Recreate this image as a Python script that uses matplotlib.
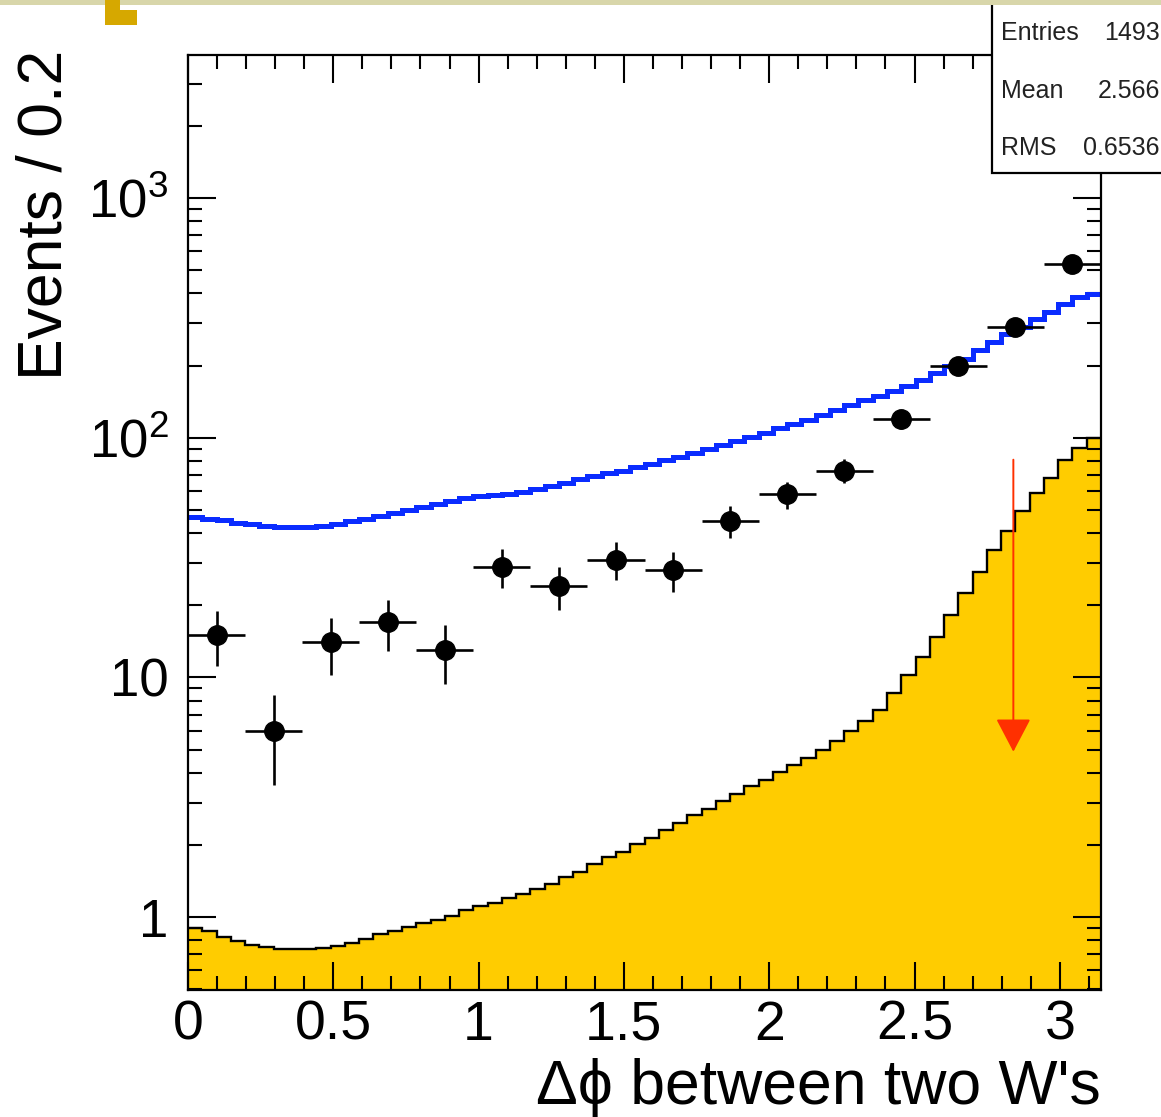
import numpy as np
import matplotlib
matplotlib.use("Agg")
import matplotlib.pyplot as plt
from matplotlib.patches import Rectangle
from matplotlib.ticker import FixedLocator, FixedFormatter, MultipleLocator, LogLocator, NullFormatter

plt.rcParams['font.family'] = ['Liberation Sans', 'DejaVu Sans']
plt.rcParams['mathtext.fontset'] = 'custom'
plt.rcParams['mathtext.rm'] = 'Liberation Sans'
plt.rcParams['mathtext.it'] = 'Liberation Sans:italic'

# data points, 16 bins over [0, pi]
data_counts = [15, 6, 14, 17, 13, 29, 24, 31, 28, 45, 58, 73, 120, 200, 290, 530]

# blue expectation, 64 bins over [0, pi]
blue_mc = [46.9, 46.0, 45.2, 44.3, 43.5, 42.8, 42.3, 42.3, 42.5, 43.0,
           43.7, 44.8, 46.0, 47.3, 48.6, 50.0, 51.5, 53.0, 54.5, 56.0,
           57.3, 57.8, 58.3, 59.5, 61.0, 63.0, 65.0, 67.0, 69.0, 71.0,
           73.0, 75.5, 78.0, 80.5, 83.5, 86.5, 89.5, 93.0, 97.0, 101.0,
           105.0, 110.0, 114.0, 119.0, 125.0, 131.0, 137.0, 144.0, 150.0, 157.0,
           165.0, 174.0, 186.0, 200.0, 214.0, 232.0, 250.0, 270.0, 290.0, 312.0,
           335.0, 360.0, 385.0, 398.0]

# yellow signal, 64 bins over [0, pi]
yellow_mc = [0.90, 0.875, 0.828, 0.797, 0.769, 0.752, 0.736, 0.736, 0.736, 0.741,
             0.762, 0.777, 0.812, 0.849, 0.872, 0.911, 0.950, 0.975, 1.016, 1.069,
             1.114, 1.147, 1.204, 1.255, 1.308, 1.372, 1.477, 1.550, 1.667, 1.783,
             1.865, 2.016, 2.147, 2.304, 2.47, 2.66, 2.835, 3.04, 3.25, 3.52,
             3.75, 4.02, 4.30, 4.63, 4.96, 5.43, 5.98, 6.56, 7.34, 8.63,
             10.2, 12.2, 14.7, 18.3, 22.5, 27.5, 34.0, 41.0, 49.3, 59.0,
             68.2, 80.4, 91.0, 100.0]

# cut arrow
cut_x = 2.84
arrow_top = 81
arrow_tip = 4.9

x_ticks = [0, 0.5, 1, 1.5, 2, 2.5, 3]
x_tick_labels = ['0', '0.5', '1', '1.5', '2', '2.5', '3']
y_ticks = [1, 10, 100, 1000]
y_tick_labels = ['1', '10', '$10^{2}$', '$10^{3}$']

stats_names = ['Entries', 'Mean', 'RMS']
stats_values = ['1493', '2.566', '0.6536']

W, H = 1161, 1117
fig = plt.figure(figsize=(W / 100, H / 100), dpi=100)
ax = fig.add_axes([188 / W, 127 / H, 913 / W, 935 / H])

mc_edges = np.linspace(0, np.pi, len(yellow_mc) + 1)
data_edges = np.linspace(0, np.pi, len(data_counts) + 1)
data_x = 0.5 * (data_edges[:-1] + data_edges[1:])
half_w = 0.5 * (data_edges[1] - data_edges[0])
counts = np.array(data_counts, dtype=float)
err = np.sqrt(counts)

# yellow filled histogram with black outline
ax.stairs(yellow_mc, mc_edges, baseline=1e-3, fill=True, color='#ffcc00', zorder=1)
ax.stairs(yellow_mc, mc_edges, baseline=None, color='black', lw=1.7, zorder=1.5)

# blue histogram
ax.stairs(blue_mc, mc_edges, baseline=None, color='#0a2cff', lw=3.6, zorder=2)

# data points
ax.errorbar(data_x, counts, xerr=half_w, yerr=err, fmt='o', color='black',
            ms=14, elinewidth=1.9, capsize=0, zorder=3)

# red cut arrow
ax.annotate('', xy=(cut_x, arrow_tip), xytext=(cut_x, arrow_top),
            arrowprops=dict(arrowstyle='-|>,head_length=1.05,head_width=0.55',
                            color='#ff3000', lw=1.4, shrinkA=0, shrinkB=0,
                            mutation_scale=20),
            zorder=4)

ax.set_yscale('log')
ax.set_xlim(0, np.pi)
ax.set_ylim(0.497, 3950)

ax.xaxis.set_major_locator(FixedLocator(x_ticks))
ax.xaxis.set_major_formatter(FixedFormatter(x_tick_labels))
ax.xaxis.set_minor_locator(MultipleLocator(0.1))
ax.yaxis.set_major_locator(FixedLocator(y_ticks))
ax.yaxis.set_major_formatter(FixedFormatter(y_tick_labels))
ax.yaxis.set_minor_locator(LogLocator(base=10, subs=np.arange(2, 10)))
ax.yaxis.set_minor_formatter(NullFormatter())

ax.tick_params(which='both', direction='in', top=True, right=True, width=1.5)
ax.tick_params(axis='x', labelsize=40)
ax.tick_params(axis='y', labelsize=38)
ax.tick_params(which='major', length=20)
ax.tick_params(which='minor', length=10)
ax.tick_params(axis='x', which='major', pad=7)
ax.tick_params(axis='y', which='major', pad=14)
for sp in ax.spines.values():
    sp.set_linewidth(1.6)

# axis titles, ROOT style
fig.text(45 / W, (H - 50) / H, 'Events / 0.2', rotation=90, ha='center', va='top', fontsize=45)
fig.text(1101 / W, (H - 1104) / H, 'Δϕ between two W\'s', ha='right', va='baseline', fontsize=45)

# stats box
fig.add_artist(Rectangle((992 / W, (H - 173) / H), 0.2, 0.2, transform=fig.transFigure,
                         facecolor='white', edgecolor='black', lw=1.6, zorder=5))
for i, (name, val) in enumerate(zip(stats_names, stats_values)):
    yb = (H - 40 - 57.5 * i) / H
    fig.text(1001 / W, yb, name, ha='left', va='baseline', fontsize=18, color='#222222', zorder=6)
    fig.text(1160 / W, yb, val, ha='right', va='baseline', fontsize=18, color='#222222', zorder=6)

# slide decoration at the top
fig.add_artist(Rectangle((0, (H - 5) / H), 1, 5 / H, transform=fig.transFigure,
                         facecolor='#d8d6aa', edgecolor='none', zorder=7))
fig.add_artist(Rectangle((105 / W, (H - 25) / H), 32 / W, 15 / H, transform=fig.transFigure,
                         facecolor='#d6a800', edgecolor='none', zorder=7))
fig.add_artist(Rectangle((105 / W, (H - 10) / H), 15 / W, 10 / H, transform=fig.transFigure,
                         facecolor='#d6a800', edgecolor='none', zorder=7))

fig.savefig('out.png', dpi=100)
